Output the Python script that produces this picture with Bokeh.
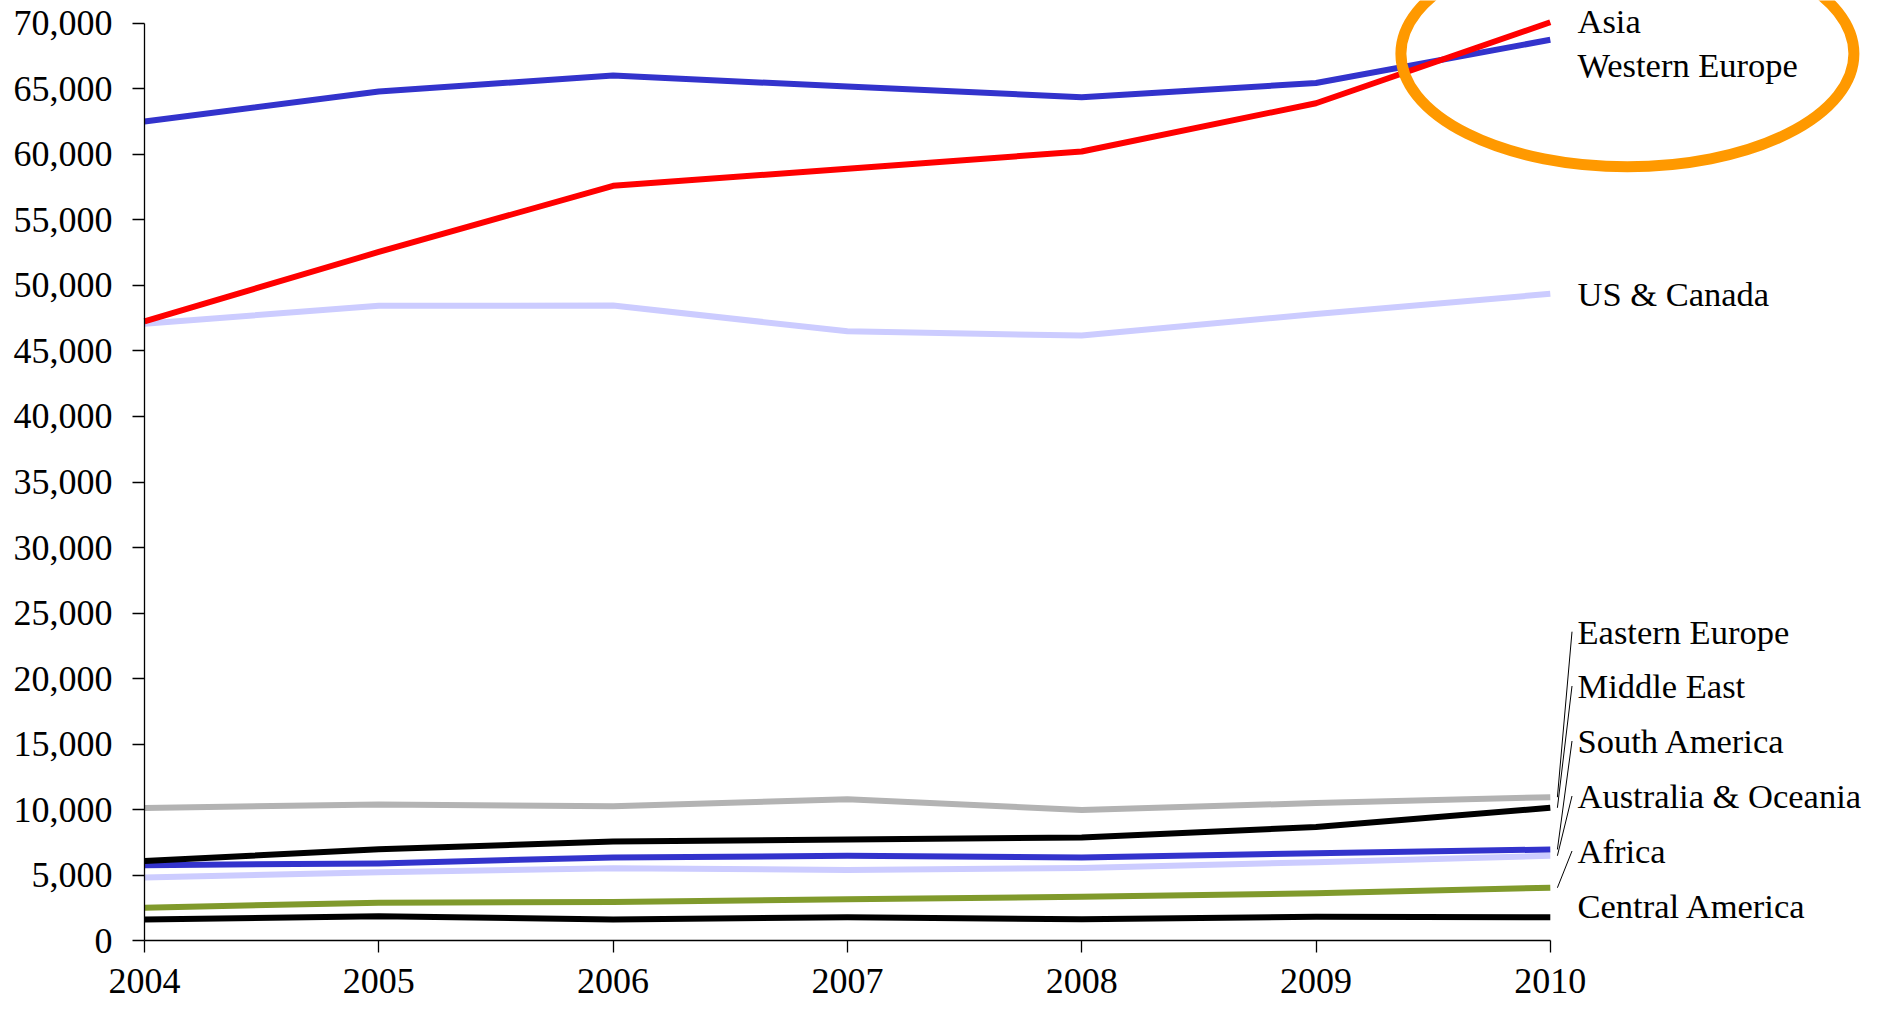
from bokeh.plotting import figure
from bokeh.models import Range1d, FixedTicker, NumeralTickFormatter
from bokeh.embed import file_html
from bokeh.resources import INLINE
from bokeh.core.properties import value

# ---------------- data ----------------
years = [2004, 2005, 2006, 2007, 2008, 2009, 2010]
asia = [47250, 52550, 57600, 58900, 60220, 63900, 70080]
western_europe = [62500, 64800, 66020, 65170, 64360, 65440, 68740]
us_canada = [47070, 48450, 48460, 46500, 46170, 47820, 49360]
eastern_europe = [10120, 10400, 10260, 10800, 9980, 10500, 10950]
middle_east = [6080, 6980, 7560, 7730, 7880, 8670, 10140]
south_america = [5760, 5900, 6350, 6480, 6350, 6680, 6960]
australia_oceania = [4820, 5220, 5520, 5400, 5540, 5990, 6480]
africa = [2520, 2900, 2950, 3160, 3350, 3620, 4040]
central_america = [1620, 1860, 1620, 1790, 1630, 1830, 1790]

series_names = ["Australia & Oceania", "US & Canada", "Eastern Europe", "Central America",
                "Africa", "South America", "Middle East", "Western Europe", "Asia"]
series_values = [australia_oceania, us_canada, eastern_europe, central_america,
                 africa, south_america, middle_east, western_europe, asia]
series_colors = ["#CCCCFF", "#CCCCFF", "#B3B3B3", "#000000",
                 "#809A2C", "#3333CC", "#000000", "#3333CC", "#FF0000"]

y_ticks = list(range(0, 70001, 5000))
x_ticks = years

# ---------------- layout ----------------
W, H = 1862, 1001
AXIS_PX = 144.0          # canvas x of 2004
ZERO_PX = 940.2          # canvas y of value 0
PX_YEAR = 234.3
PX_UNIT = 917.4 / 70000.0


def x_at(px):
    return 2004 + (px - AXIS_PX) / PX_YEAR


def y_at(px):
    return (ZERO_PX - px) / PX_UNIT


FONT = "Liberation Serif"
TICK_SIZE = "36px"
LABEL_SIZE = "34.5px"

p = figure(width=W, height=H, output_backend="svg", toolbar_location=None,
           x_range=Range1d(x_at(0), x_at(W)), y_range=Range1d(y_at(H), y_at(0)),
           min_border_left=0, min_border_right=0, min_border_top=0,
           min_border_bottom=0)

p.xgrid.visible = False
p.ygrid.visible = False
p.outline_line_color = None
p.background_fill_color = "white"
p.border_fill_color = "white"

p.xaxis.ticker = FixedTicker(ticks=x_ticks, minor_ticks=[])
p.yaxis.ticker = FixedTicker(ticks=y_ticks, minor_ticks=[])
p.yaxis.formatter = NumeralTickFormatter(format="0,0")
p.xaxis.bounds = (2004, 2010)
p.yaxis.bounds = (0, 70000)
p.xaxis.fixed_location = 0
p.yaxis.fixed_location = 2004
for ax in (p.xaxis, p.yaxis):
    ax.axis_line_color = "black"
    ax.axis_line_width = 1.3
    ax.major_tick_line_color = "black"
    ax.major_tick_line_width = 1.3
    ax.major_tick_in = 0
    ax.major_tick_out = 12
    ax.minor_tick_out = 0
    ax.minor_tick_in = 0
    ax.major_label_text_font = FONT
    ax.major_label_text_font_size = TICK_SIZE
    ax.major_label_text_color = "black"
p.yaxis.major_label_standoff = 20
p.xaxis.major_label_standoff = 16

# lines
for vals, col in zip(series_values, series_colors):
    p.line(years, vals, line_color=col, line_width=6, line_join="round")

# ellipse highlight
p.ellipse(x=[x_at(1626.9)], y=[y_at(53.3)], width=[453], height=[226],
          width_units="screen", height_units="screen",
          fill_color=None, line_color="#FF9900", line_width=11)

# labels (vertical centres in canvas px)
label_order = ["Asia", "Western Europe", "US & Canada", "Eastern Europe", "Middle East",
               "South America", "Australia & Oceania", "Africa", "Central America"]
label_mid_px = [20.0, 64.0, 293.0, 631.2, 685.5, 740.5, 795.5, 850.5, 905.5]
LABEL_X = x_at(1577)
p.text(x=[LABEL_X] * len(label_order), y=[y_at(b) for b in label_mid_px],
       text=label_order, text_font=value(FONT), text_font_size=LABEL_SIZE,
       text_color="black", text_baseline="middle", text_align="left")

# leader lines
lead_names = ["Eastern Europe", "Middle East", "South America", "Australia & Oceania", "Africa"]
x0s, y0s, x1s, y1s = [], [], [], []
for nm in lead_names:
    vals = series_values[series_names.index(nm)]
    b = label_mid_px[label_order.index(nm)]
    x0s.append(x_at(1556.9))
    y0s.append(vals[-1])
    x1s.append(x_at(1571.5))
    y1s.append(y_at(b))
p.segment(x0=x0s, y0=y0s, x1=x1s, y1=y1s, line_color="black", line_width=1)

open("out.html", "w").write(file_html(p, INLINE))
